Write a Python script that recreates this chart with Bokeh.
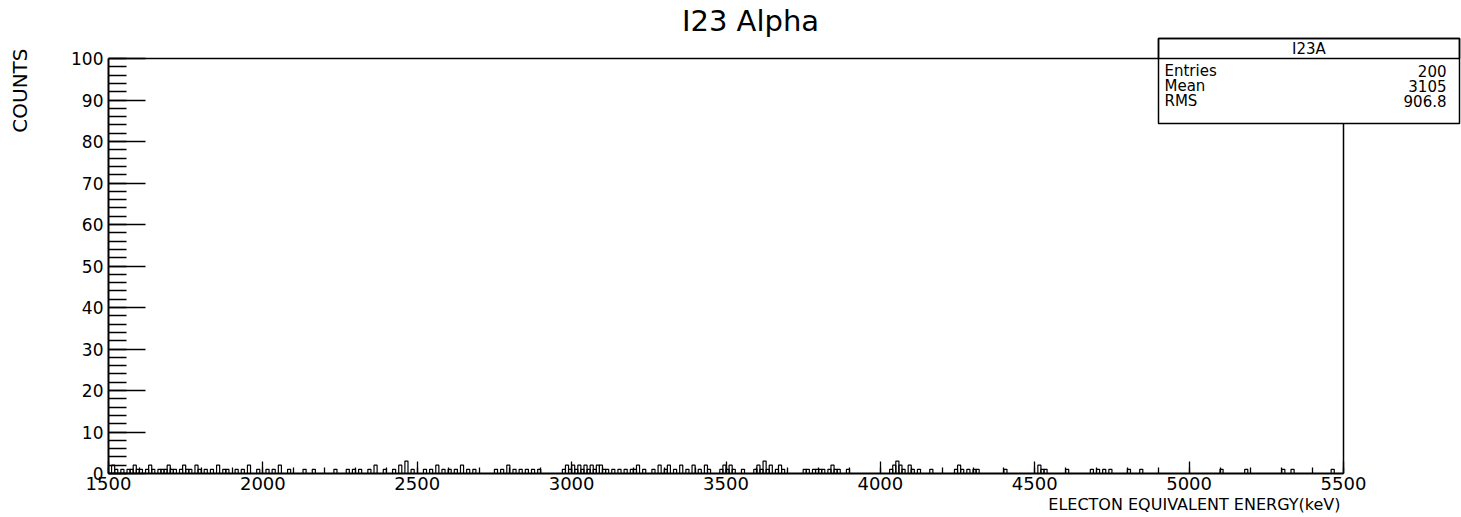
import math
from bokeh.plotting import figure
from bokeh.models import Range1d, FixedTicker, Label, BoxAnnotation, Title, LinearAxis
from bokeh.embed import file_html
from bokeh.resources import INLINE

# ---------------- data ----------------
title_text = "I23 Alpha"
x_title = "ELECTON EQUIVALENT ENERGY(keV)"
y_title = "COUNTS"
stats_name = "I23A"
stats_keys = ["Entries", "Mean", "RMS"]
stats_vals = ["200", "3105", "906.8"]

x_min, x_max = 1500, 5500
y_min, y_max = 0, 100
bin_width = 10
x_ticks = [1500, 2000, 2500, 3000, 3500, 4000, 4500, 5000, 5500]
x_minor = list(range(1500, 5501, 100))
y_ticks = [0, 10, 20, 30, 40, 50, 60, 70, 80, 90, 100]
y_minor = list(range(0, 101, 2))

# non-empty bins (low edge, keV) and their counts
bin_low = [
    1510, 1520, 1540, 1560, 1570, 1580, 1590,
    1600, 1620, 1630, 1640, 1660, 1670, 1680, 1690,
    1700, 1710, 1730, 1740, 1750, 1760, 1780, 1790,
    1810, 1830, 1850, 1870, 1880,
    1910, 1930, 1950, 1980,
    2010, 2030, 2050, 2080, 2130, 2160, 2230, 2270, 2290,
    2310, 2340, 2360, 2390, 2420, 2440, 2460, 2480,
    2520, 2540, 2560, 2580, 2600, 2620, 2640, 2660, 2680,
    2750, 2770, 2790, 2810, 2830, 2850, 2870, 2890,
    2970, 2980, 2990,
    3000, 3010, 3020, 3030, 3040, 3050, 3060, 3070, 3080, 3090,
    3100, 3110, 3130, 3150, 3170, 3190, 3200, 3210, 3230,
    3260, 3280, 3300, 3310, 3330, 3350, 3370, 3390, 3410, 3430, 3440, 3480, 3490,
    3500, 3510, 3520, 3550, 3590, 3600, 3610, 3620, 3630, 3640, 3660, 3670, 3680,
    3750, 3760, 3780, 3790, 3800, 3810, 3830, 3840, 3850, 3860, 3890,
    4030, 4040, 4050, 4060, 4070, 4090, 4100, 4120, 4160,
    4240, 4250, 4260, 4280, 4300, 4310, 4400,
    4510, 4520, 4530, 4600, 4680, 4700, 4720, 4740, 4800, 4840,
    5100, 5180, 5300, 5330, 5460,
]
bin_counts = [
    2, 1, 1, 1, 1, 2, 1,
    1, 1, 2, 1, 1, 1, 1, 2,
    1, 1, 1, 2, 1, 1, 2, 1,
    1, 1, 2, 1, 1,
    1, 1, 2, 1,
    1, 1, 2, 1, 1, 1, 1, 1, 1,
    1, 1, 2, 1, 1, 2, 3, 1,
    1, 1, 2, 1, 1, 1, 2, 1, 1,
    1, 1, 2, 1, 1, 1, 1, 1,
    1, 2, 1,
    2, 1, 2, 1, 2, 1, 2, 1, 2, 2,
    1, 1, 1, 1, 1, 1, 1, 2, 1,
    1, 2, 1, 2, 1, 2, 1, 2, 1, 2, 1, 1, 2,
    1, 2, 1, 1, 1, 2, 1, 3, 1, 2, 1, 2, 1,
    1, 1, 1, 1, 1, 1, 1, 2, 1, 1, 1,
    1, 2, 3, 2, 1, 2, 1, 1, 1,
    1, 2, 1, 1, 1, 1, 1,
    2, 1, 1, 1, 1, 1, 1, 1, 1, 1,
    1, 1, 1, 1, 1,
]

FONT = "DejaVu Sans"

# canvas geometry (px): histogram area 108..1343 x 58..473
W, H = 1461, 517
AX_L, AX_R, AX_T, AX_B = 108, 1343, 58, 473
px_per_x = (AX_R - AX_L) / (x_max - x_min)
px_per_y = (AX_B - AX_T) / (y_max - y_min)
# the frame extends to the right and top canvas edges so the box/title fit
x_end = x_max + (W - AX_R) / px_per_x
y_end = y_max + AX_T / px_per_y

p = figure(width=W, height=H, output_backend="svg", toolbar_location=None,
           x_range=Range1d(x_min, x_end), y_range=Range1d(y_min, y_end),
           min_border_left=AX_L, min_border_right=0,
           min_border_top=0, min_border_bottom=H - AX_B,
           title=None)
p.background_fill_color = "white"
p.border_fill_color = "white"
p.outline_line_color = None
p.xgrid.visible = False
p.ygrid.visible = False

for ax in (p.xaxis, p.yaxis):
    ax.axis_line_color = "black"
    ax.axis_line_width = 2
    ax.major_tick_line_color = "black"
    ax.minor_tick_line_color = "black"
    ax.major_tick_line_width = 1.3
    ax.minor_tick_line_width = 1.3
    ax.major_tick_out = 0
    ax.minor_tick_out = 0
    ax.major_label_text_font = FONT
    ax.major_label_text_color = "black"

p.xaxis.bounds = (x_min, x_max)
p.yaxis.bounds = (y_min, y_max)
p.xaxis.ticker = FixedTicker(ticks=x_ticks, minor_ticks=x_minor)
p.yaxis.ticker = FixedTicker(ticks=y_ticks, minor_ticks=y_minor)
p.xaxis.major_tick_in = 12
p.xaxis.minor_tick_in = 6
p.yaxis.major_tick_in = 37
p.yaxis.minor_tick_in = 18
p.xaxis.major_label_text_font_size = "18px"
p.xaxis.major_label_standoff = 3
p.yaxis.major_label_text_font_size = "17px"
p.yaxis.major_label_standoff = 5

# top and right edges of the histogram frame
p.segment(x0=[x_min, x_max], y0=[y_max, y_min], x1=[x_max, x_max], y1=[y_max, y_max],
          line_color="black", line_width=1.5)

# histogram
p.quad(left=bin_low, right=[b + bin_width for b in bin_low],
       bottom=0, top=bin_counts, fill_color=None,
       line_color="black", line_width=1.2)

# invisible spacer axis (one hidden tick) to push the y title outwards
spacer = LinearAxis(ticker=FixedTicker(ticks=[50], minor_ticks=[]),
                    axis_line_color=None,
                    major_tick_out=37, minor_tick_out=0, major_tick_in=0,
                    minor_tick_in=0, major_label_standoff=0,
                    major_label_overrides={50: ""},
                    major_tick_line_color=None, minor_tick_line_color=None)
p.add_layout(spacer, "left")

# axis titles as side-panel titles
p.add_layout(Title(text=x_title, align="right", offset=W - 1340,
                   text_font=FONT, text_font_size="16px", text_font_style="normal",
                   text_color="black", standoff=0), "below")
p.add_layout(Title(text=y_title, align="right", offset=48,
                   text_font=FONT, text_font_size="20px", text_font_style="normal",
                   text_color="black", standoff=0), "left")

def sx(cx):
    return cx - AX_L

def sy(cy):
    return AX_B - cy

# main title
p.add_layout(Label(x=sx(750), y=sy(20), x_units="screen", y_units="screen",
                   text=title_text, text_align="center", text_baseline="middle",
                   text_font=FONT, text_font_size="29px", text_color="black"))

# stats box
BL, BR, BT, BB, BH = 1158, 1459, 38, 123, 58
p.add_layout(BoxAnnotation(left=sx(BL), right=sx(BR), top=sy(BT), bottom=sy(BB),
                           left_units="screen", right_units="screen",
                           top_units="screen", bottom_units="screen",
                           fill_color="white", fill_alpha=1.0,
                           line_color="black", line_width=1.5, line_alpha=1.0))
p.add_layout(BoxAnnotation(left=sx(BL), right=sx(BR), top=sy(BT), bottom=sy(BH),
                           left_units="screen", right_units="screen",
                           top_units="screen", bottom_units="screen",
                           fill_alpha=0.0,
                           line_color="black", line_width=1.5, line_alpha=1.0))
p.add_layout(Label(x=sx((BL + BR) / 2), y=sy(48.5), x_units="screen", y_units="screen",
                   text=stats_name, text_align="center", text_baseline="middle",
                   text_font=FONT, text_font_size="15px", text_color="black"))
row_y = [70, 85.5, 100.5]
for k, v, cy in zip(stats_keys, stats_vals, row_y):
    p.add_layout(Label(x=sx(1164), y=sy(cy), x_units="screen", y_units="screen",
                       text=k, text_align="left", text_baseline="middle",
                       text_font=FONT, text_font_size="15px", text_color="black"))
    p.add_layout(Label(x=sx(1446), y=sy(cy), x_units="screen", y_units="screen",
                       text=v, text_align="right", text_baseline="middle",
                       text_font=FONT, text_font_size="15px", text_color="black"))

open("out.html", "w").write(file_html(p, INLINE))
